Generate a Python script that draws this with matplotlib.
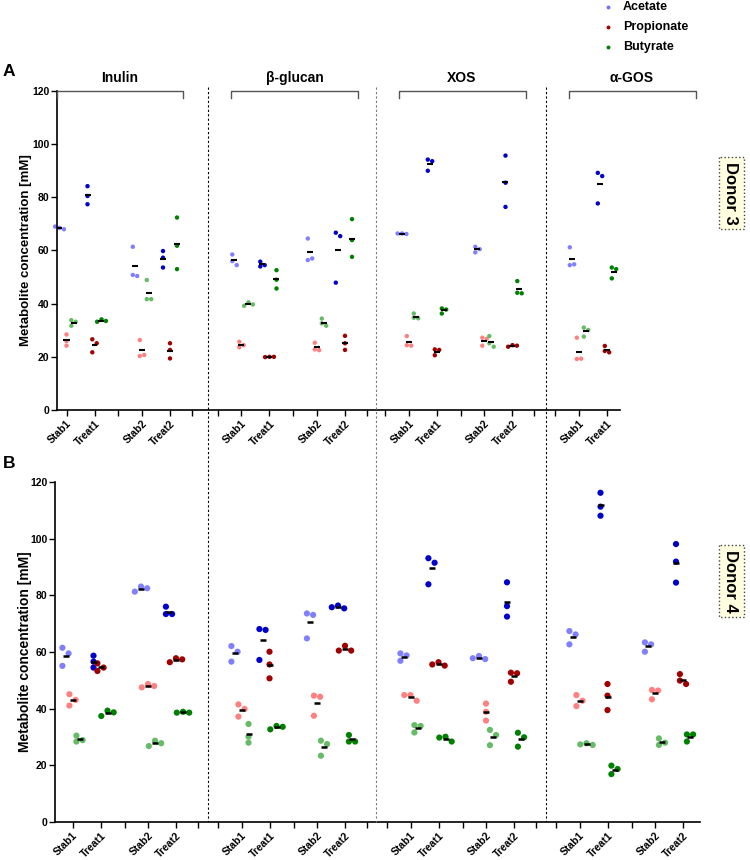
import numpy as np
import matplotlib.pyplot as plt

plt.rcParams['font.family'] = ['Liberation Sans', 'DejaVu Sans']
plt.rcParams['font.weight'] = 'bold'
plt.rcParams['axes.labelweight'] = 'bold'

W, H = 750, 860

substrates = ['Inulin', 'β-glucan', 'XOS', 'α-GOS']
conditions = ['Stab1', 'Treat1', 'Stab2', 'Treat2']
metabolites = ['Acetate', 'Propionate', 'Butyrate']

# donor 3 (panel A), rows = substrate, cols = Stab1, Treat1, Stab2, Treat2
d3_acetate = [
    [[68.5, 68.0, 69.0], [84.2, 80.5, 77.4], [61.4, 50.8, 50.4], [59.8, 57.3, 53.6]],
    [[58.5, 56.0, 54.5], [55.8, 54.5, 54.0], [64.5, 56.4, 57.0], [66.7, 65.4, 47.9]],
    [[66.4, 66.2, 66.4], [94.2, 93.6, 90.0], [61.4, 60.5, 59.3], [95.7, 85.5, 76.4]],
    [[61.2, 54.5, 54.8], [89.2, 88.0, 77.7], None, None],
]
d3_propionate = [
    [[28.4, 25.9, 24.2], [26.6, 25.1, 21.7], [26.3, 20.3, 20.7], [25.1, 22.6, 19.4]],
    [[25.7, 24.4, 23.6], [20.0, 20.0, 19.9], [25.3, 22.8, 22.5], [27.9, 25.1, 22.6]],
    [[27.8, 24.4, 24.2], [22.8, 22.6, 20.6], [27.2, 26.8, 24.2], [24.4, 24.2, 23.8]],
    [[27.2, 19.2, 19.3], [24.1, 22.2, 21.7], None, None],
]
d3_butyrate = [
    [[33.8, 33.2, 31.7], [34.1, 33.5, 33.2], [48.9, 41.7, 41.7], [72.4, 61.8, 53.0]],
    [[40.5, 39.7, 39.2], [52.6, 49.0, 45.7], [34.4, 32.6, 31.7], [71.8, 63.9, 57.6]],
    [[36.3, 34.7, 34.5], [38.2, 37.8, 36.3], [27.8, 25.1, 23.8], [48.5, 44.1, 43.9]],
    [[31.0, 30.1, 27.6], [53.6, 53.0, 49.5], None, None],
]

# donor 4 (panel B)
d4_acetate = [
    [[61.5, 59.5, 55.1], [58.7, 56.6, 54.5], [83.1, 82.5, 81.3], [76.0, 73.4, 73.4]],
    [[62.1, 60.1, 56.6], [68.1, 67.8, 57.2], [73.6, 73.1, 64.8], [76.4, 75.4, 75.8]],
    [[59.5, 56.9, 58.8], [93.1, 91.5, 83.9], [58.6, 57.5, 57.8], [84.6, 76.2, 72.5]],
    [[67.4, 66.2, 62.7], [116.2, 111.3, 108.1], [63.4, 62.7, 60.1], [98.1, 91.9, 84.5]],
]
d4_propionate = [
    [[45.1, 43.1, 41.1], [56.0, 54.5, 53.3], [48.7, 48.0, 47.5], [57.8, 57.4, 56.4]],
    [[41.5, 39.9, 37.2], [60.1, 55.6, 50.7], [44.6, 44.2, 37.5], [62.2, 60.5, 60.5]],
    [[44.8, 42.8, 44.8], [56.4, 55.2, 55.6], [41.8, 35.8, 38.9], [52.7, 52.5, 49.5]],
    [[44.8, 42.8, 40.9], [48.7, 44.6, 39.5], [46.6, 46.4, 43.3], [52.2, 49.9, 48.7]],
]
d4_butyrate = [
    [[30.5, 28.9, 28.4], [39.3, 38.7, 37.4], [28.7, 27.8, 26.8], [38.9, 38.6, 38.6]],
    [[34.6, 30.1, 28.0], [33.9, 33.6, 32.7], [28.7, 27.5, 23.4], [30.7, 28.4, 28.4]],
    [[34.2, 31.6, 33.9], [30.1, 28.4, 29.8], [32.5, 30.7, 27.1], [31.5, 29.9, 26.6]],
    [[27.8, 27.2, 27.4], [19.9, 18.7, 16.9], [29.5, 28.0, 27.2], [30.9, 30.9, 28.4]],
]

light = {'Acetate': '#8080ff', 'Propionate': '#ff8080', 'Butyrate': '#66bb66'}
dark = {'Acetate': '#0000cc', 'Propionate': '#a00000', 'Butyrate': '#008000'}
legend_col = {'Acetate': '#7070ff', 'Propionate': '#a00000', 'Butyrate': '#008000'}

# layout in reference pixels
tick_off = [0, 23.5, 51.5, 75.5, 99, 127, 149]
cond_slot = [1, 2, 4, 5]
met_off = [-7, 0, 7]
right_px = 700

panels = [
    dict(tag='A', data=[d3_acetate, d3_propionate, d3_butyrate], y0=410, y1=91,
         left=57, axis_end=620, starts=[43, 218, 385.5, 555.5], diam=4.4,
         mean_w=3, mean_lw=1.5, ylab=9.5, donor='Donor 3', donor_y=193, tag_y=71),
    dict(tag='B', data=[d4_acetate, d4_propionate, d4_butyrate], y0=822, y1=482,
         left=55, axis_end=700, starts=[49, 218, 387, 556], diam=6.2,
         mean_w=3, mean_lw=1.8, ylab=10, donor='Donor 4', donor_y=581, tag_y=463),
]


def swarm(vals, ypx, diam):
    pts = []
    offs = []
    for v in vals:
        y = v * ypx
        for k in (0, 1, -1, 2, -2, 3, -3):
            x = k * diam
            if all((x - px) ** 2 + (y - py) ** 2 >= (diam * 0.95) ** 2 for px, py in pts):
                break
        pts.append((x, y))
        offs.append(x)
    offs = np.array(offs)
    return offs - (offs.max() + offs.min()) / 2


fig = plt.figure(figsize=(W / 100, H / 100), dpi=100)

for p in panels:
    ax = fig.add_axes([p['left'] / W, (H - p['y0']) / H,
                       (right_px - p['left']) / W, (p['y0'] - p['y1']) / H])
    ax.set_xlim(p['left'], right_px)
    ax.set_ylim(0, 120)
    ax.patch.set_visible(False)
    ypx = (p['y0'] - p['y1']) / 120

    for g, sub in enumerate(substrates):
        gs = p['starts'][g]
        for c, cond in enumerate(conditions):
            for m, met in enumerate(metabolites):
                vals = p['data'][m][g][c]
                if vals is None:
                    continue
                xc = gs + tick_off[cond_slot[c]] + met_off[m]
                col = light[met] if cond.startswith('Stab') else dark[met]
                xs = xc + swarm(vals, ypx, p['diam'])
                ax.scatter(xs, vals, s=(p['diam'] * 0.72) ** 2, color=col,
                           edgecolors='none', zorder=2, clip_on=False)
                mu = np.mean(vals)
                ax.hlines(mu, xc - p['mean_w'], xc + p['mean_w'], color='black',
                          lw=p['mean_lw'], zorder=3)

    ticks, labels = [], []
    for gs in p['starts']:
        for i, off in enumerate(tick_off):
            x = gs + off
            if p['left'] < x <= p['axis_end'] + 0.5:
                ticks.append(x)
                labels.append(conditions[cond_slot.index(i)] if i in cond_slot else '')
    ax.set_xticks(ticks)
    ax.set_xticklabels(labels, rotation=45, ha='right', rotation_mode='anchor', fontsize=7.5)
    ax.set_yticks(range(0, 121, 20))
    ax.tick_params(axis='both', direction='out', length=4, width=1, labelsize=7.5, pad=1.5)
    ax.tick_params(axis='x', pad=2)
    for s in ('top', 'right'):
        ax.spines[s].set_visible(False)
    for s in ('left', 'bottom'):
        ax.spines[s].set_linewidth(1.2)
    ax.spines['bottom'].set_bounds(p['left'], p['axis_end'])
    ax.set_ylabel('Metabolite concentration [mM]', fontsize=p['ylab'])
    ax.yaxis.set_label_coords((32 - p['left']) / (right_px - p['left']), 0.5)

# overlay in reference pixel coordinates
ov = fig.add_axes([0, 0, 1, 1])
ov.set_xlim(0, W)
ov.set_ylim(H, 0)
ov.axis('off')

pa, pb = panels
for g, sub in enumerate(substrates):
    gs = pa['starts'][g]
    x0 = max(gs + 13, pa['left'])
    x1 = gs + 140
    ov.plot([x0, x0, x1, x1], [98, 90.5, 90.5, 98], color='#555555', lw=1)
    ov.text((x0 + x1) / 2, 78, sub, ha='center', va='center', fontsize=10)
    if g > 0:
        dcol = '#777777' if g == 2 else 'black'
        ov.plot([gs - 10, gs - 10], [87, pb['y0']], color=dcol, lw=0.8, ls=(0, (2, 2)))

for p in panels:
    ov.text(3, p['tag_y'], p['tag'], fontsize=12.5, fontweight='bold', va='center')
    ov.text(731, p['donor_y'], p['donor'], rotation=-90, ha='center', va='center',
            fontsize=12, bbox=dict(boxstyle='square,pad=0.3', fc='#ffffe0',
                                   ec='#444444', ls=':', lw=1))

for i, met in enumerate(metabolites):
    y = 7 + 20 * i
    ov.plot(608, y, 'o', color=legend_col[met], ms=2.8, mec='none')
    ov.text(623, y, met, va='center', fontsize=9)

fig.savefig('out.png', dpi=100)
